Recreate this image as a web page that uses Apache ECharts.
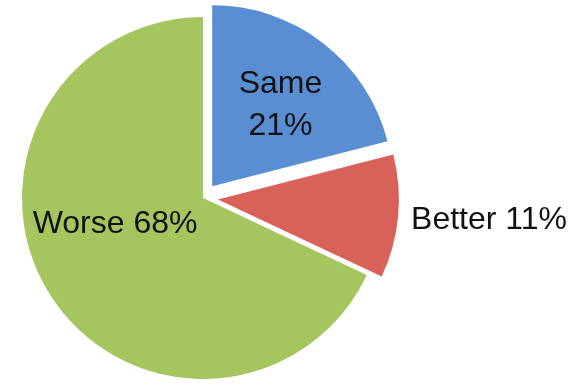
<!DOCTYPE html>
<html>
<head>
<meta charset="utf-8">
<script src="https://cdn.jsdelivr.net/npm/echarts@6/dist/echarts.min.js"></script>
<style>html,body{margin:0;padding:0;background:#fff}#c{width:587px;height:387px}</style>
</head>
<body>
<div id="c"></div>
<script>
const categories = ['Same', 'Better', 'Worse'];
const values = [21, 11, 68];
const colors = ['#5A8ED3', '#D8625A', '#A5C55F'];
const exploded = [true, true, false];
const labelFormats = ['{b}\n{c}%', '{b} {c}%', '{b} {c}%'];
const labelShift = [[11, -7], [178, 12], [-9, -24]];

const chart = echarts.init(document.getElementById('c'), null, {renderer: 'canvas'});
chart.setOption({
  animation: false,
  backgroundColor: '#fff',
  series: [{
    type: 'pie',
    center: [203, 198],
    radius: 181,
    startAngle: 90,
    clockwise: true,
    selectedMode: 'multiple',
    selectedOffset: 15,
    avoidLabelOverlap: false,
    emphasis: {disabled: true},
    labelLine: {show: false},
    labelLayout: function (p) {
      return {dx: labelShift[p.dataIndex][0], dy: labelShift[p.dataIndex][1], hideOverlap: false};
    },
    data: categories.map((n, i) => ({
      name: n,
      value: values[i],
      selected: exploded[i],
      itemStyle: {color: colors[i]},
      label: {
        show: true,
        position: 'inside',
        formatter: labelFormats[i],
        fontFamily: 'Liberation Sans',
        fontSize: 32,
        lineHeight: 42,
        color: '#111',
        align: 'center'
      }
    }))
  }]
});
</script>
</body>
</html>
